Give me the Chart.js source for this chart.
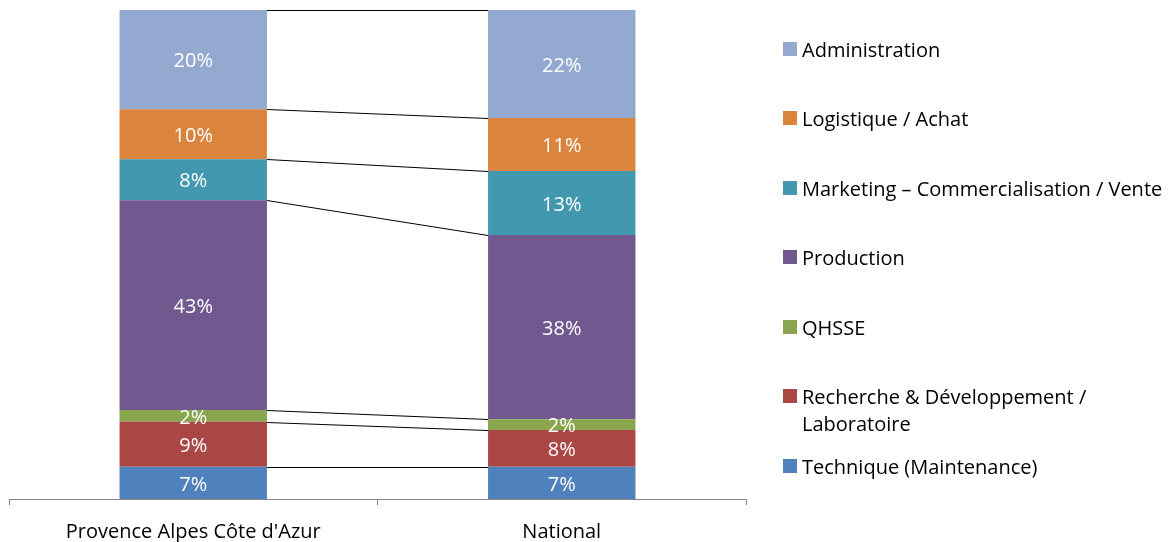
<!DOCTYPE html>
<html>
<head>
<meta charset="utf-8">
<script src="https://cdn.jsdelivr.net/npm/chart.js@4.4.1/dist/chart.umd.min.js"></script>
<style>
  html, body { margin: 0; padding: 0; background: #fff; overflow: hidden; }
  #wrap { position: relative; width: 1176px; height: 542px; overflow: hidden; }
  #c { position: absolute; left: 0; top: 0; width: 1176px; height: 542px; }
  #legend { position: absolute; left: 783px; top: 0; width: 393px; font-family: 'Open Sans', sans-serif; font-size: 20px; color: #000; }
  .item { position: absolute; left: 0; display: flex; align-items: flex-start; }
  .sw { width: 14px; height: 14px; margin-top: 6px; margin-right: 5px; flex: none; }
  .txt { line-height: 27px; width: 372px; }
</style>
</head>
<body>
<div id="wrap">
  <canvas id="c" width="1176" height="542"></canvas>
  <div id="legend"></div>
</div>
<script>
// Categories
const categories = ["Provence Alpes Côte d'Azur", "National"];
// Series names (bottom to top of the stack)
const seriesNames = [
  "Technique (Maintenance)",
  "Recherche & Développement / Laboratoire",
  "QHSSE",
  "Production",
  "Marketing – Commercialisation / Vente",
  "Logistique / Achat",
  "Administration"
];
// Values (%) per series: [PACA, National]
const technique   = [6.6, 6.6];
const recherche   = [9.2, 7.5];
const qhsse       = [2.4, 2.2];
const production  = [42.9, 37.7];
const marketing   = [8.4, 13.1];
const logistique  = [10.2, 10.8];
const administration = [20.3, 22.1];
const seriesColors = ["#4F81BD", "#AA4643", "#89A54E", "#71588F", "#4198AF", "#DB843D", "#93A9CF"];

const seriesValues = [technique, recherche, qhsse, production, marketing, logistique, administration];

const datasets = seriesNames.map((name, i) => ({
  label: name,
  data: seriesValues[i],
  backgroundColor: seriesColors[i],
  borderWidth: 0,
  barPercentage: 1,
  categoryPercentage: 0.4
}));

const seriesLines = {
  id: 'seriesLines',
  afterDatasetsDraw(chart) {
    const ctx = chart.ctx;
    ctx.save();
    ctx.strokeStyle = '#000';
    ctx.lineWidth = 1;
    chart.data.datasets.forEach((ds, i) => {
      const meta = chart.getDatasetMeta(i);
      const a = meta.data[0], b = meta.data[1];
      ctx.beginPath();
      ctx.moveTo(a.x + a.width / 2, Math.round(a.y) + 0.5);
      ctx.lineTo(b.x - b.width / 2, Math.round(b.y) + 0.5);
      ctx.stroke();
    });
    // value labels
    ctx.fillStyle = '#fff';
    ctx.font = '20px "Open Sans", sans-serif';
    ctx.textAlign = 'center';
    ctx.textBaseline = 'middle';
    chart.data.datasets.forEach((ds, i) => {
      const meta = chart.getDatasetMeta(i);
      meta.data.forEach((el, j) => {
        const v = ds.data[j];
        ctx.fillText(Math.round(v) + '%', el.x, (el.y + el.base) / 2 + 2);
      });
    });
    ctx.restore();
  }
};

Chart.defaults.font.family = "'Open Sans', sans-serif";
Chart.defaults.color = '#000';

new Chart(document.getElementById('c'), {
  type: 'bar',
  data: { labels: categories, datasets },
  options: {
    responsive: false,
    animation: false,
    layout: { padding: { left: 9, right: 430, top: 10, bottom: 0 } },
    plugins: { legend: { display: false }, tooltip: { enabled: false } },
    scales: {
      x: {
        stacked: true,
        grid: { offset: true, drawOnChartArea: false, drawTicks: true, tickLength: 6, color: '#868686' },
        border: { display: true, color: '#868686' },
        ticks: { font: { size: 20 }, color: '#000', padding: 15 },
        afterFit(axis) { axis.height = 43; }
      },
      y: {
        stacked: true,
        display: false,
        min: 0,
        max: 100
      }
    }
  },
  plugins: [seriesLines]
});

// HTML legend (top to bottom: reverse stack order)
const legend = document.getElementById('legend');
const order = seriesNames.map((n, i) => i).reverse();
order.forEach((idx, k) => {
  const item = document.createElement('div');
  item.className = 'item';
  item.style.top = (35.5 + k * 69.5) + 'px';
  const sw = document.createElement('div');
  sw.className = 'sw';
  sw.style.background = seriesColors[idx];
  const t = document.createElement('div');
  t.className = 'txt';
  t.textContent = seriesNames[idx];
  item.appendChild(sw);
  item.appendChild(t);
  legend.appendChild(item);
});
</script>
</body>
</html>
